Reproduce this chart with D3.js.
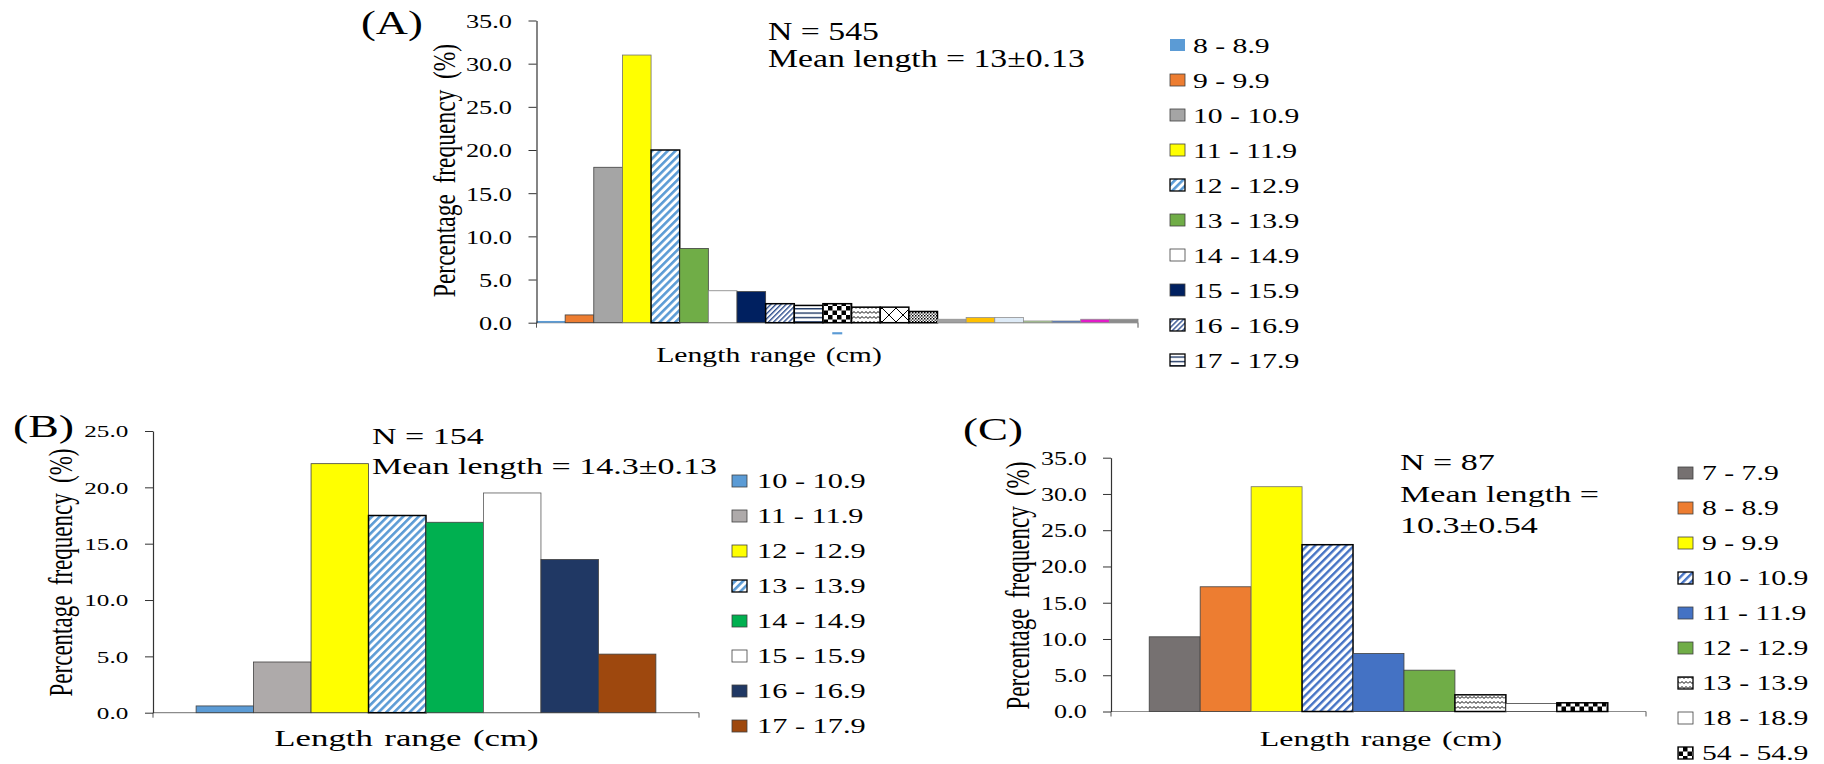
<!DOCTYPE html>
<html><head><meta charset="utf-8">
<script src="https://cdn.jsdelivr.net/npm/d3@7"></script>
<style>html,body{margin:0;padding:0;background:#fff;} svg{display:block;}</style>
</head><body>
<svg id="chart" width="1824" height="764"></svg>
<script>
// ---------------- DATA ----------------
const catsA = ["8 - 8.9","9 - 9.9","10 - 10.9","11 - 11.9","12 - 12.9","13 - 13.9","14 - 14.9","15 - 15.9","16 - 16.9","17 - 17.9",
  "18 - 18.9","19 - 19.9","20 - 20.9","21 - 21.9","22 - 22.9","23 - 23.9","24 - 24.9","25 - 25.9","26 - 26.9","27 - 27.9","28 - 28.9"];
const valsA = [0.2, 0.9, 18.0, 31.0, 20.0, 8.6, 3.7, 3.6, 2.2, 2.0, 2.2, 1.8, 1.8, 1.3, 0.4, 0.6, 0.6, 0.2, 0.2, 0.4, 0.4];
const legendCountA = 10;
const ticksA = [0, 5, 10, 15, 20, 25, 30, 35];
const notesA = ["N = 545", "Mean length = 13±0.13"];

const catsB = ["10 - 10.9","11 - 11.9","12 - 12.9","13 - 13.9","14 - 14.9","15 - 15.9","16 - 16.9","17 - 17.9"];
const valsB = [0.6, 4.5, 22.1, 17.5, 16.9, 19.5, 13.6, 5.2];
const ticksB = [0, 5, 10, 15, 20, 25];
const notesB = ["N = 154", "Mean length = 14.3±0.13"];

const catsC = ["7 - 7.9","8 - 8.9","9 - 9.9","10 - 10.9","11 - 11.9","12 - 12.9","13 - 13.9","18 - 18.9","54 - 54.9"];
const valsC = [10.3, 17.2, 31.0, 23.0, 8.0, 5.7, 2.3, 1.1, 1.2];
const ticksC = [0, 5, 10, 15, 20, 25, 30, 35];
const notesC = ["N = 87", "Mean length =", "10.3±0.54"];

const titles = ["(A)", "(B)", "(C)"];
const yTitle = "Percentage frequency (%)";
const xTitle = "Length range (cm)";
const strayMarkA = {category: "18 - 18.9", from: -1.35, to: -1.1};

// ---------------- STYLE ----------------
const FONT = "'Liberation Serif','Times New Roman',Times,serif";
const svg = d3.select("#chart");
const defs = svg.append("defs");
function pat(id, w, h, rot, draw) {
  const p = defs.append("pattern").attr("id", id).attr("patternUnits", "userSpaceOnUse")
    .attr("width", w).attr("height", h);
  if (rot) p.attr("patternTransform", `rotate(${rot})`);
  p.append("rect").attr("width", w).attr("height", h).attr("fill", "#fff");
  draw(p);
}
pat("diagL", 5.5, 5.5, 45, p => p.append("rect").attr("width", 2.6).attr("height", 5.5).attr("fill", "#5B9BD5"));
pat("diagC", 5.5, 5.5, 45, p => p.append("rect").attr("width", 2.4).attr("height", 5.5).attr("fill", "#4472C4"));
pat("diagN", 3.6, 3.6, 45, p => p.append("rect").attr("width", 1.4).attr("height", 3.6).attr("fill", "#2F4F8F"));
pat("hstr", 4, 4.4, 0, p => p.append("rect").attr("width", 4).attr("height", 1.4).attr("fill", "#1F3864"));
pat("check", 9, 9, 0, p => { p.append("rect").attr("width", 4.5).attr("height", 4.5).attr("fill", "#000");
  p.append("rect").attr("x", 4.5).attr("y", 4.5).attr("width", 4.5).attr("height", 4.5).attr("fill", "#000"); });
pat("wave", 8, 5, 0, p => p.append("path").attr("d", "M0,3.5 L2,1.5 L4,3.5 L6,1.5 L8,3.5").attr("fill", "none").attr("stroke", "#000").attr("stroke-width", 1));
pat("cross", 14, 14, 0, p => { p.append("path").attr("d", "M0,0 L14,14 M14,0 L0,14").attr("stroke", "#000").attr("stroke-width", 1); });
pat("dots", 3, 3, 0, p => { p.append("rect").attr("width", 1.5).attr("height", 1.5).attr("fill", "#000");
  p.append("rect").attr("x", 1.5).attr("y", 1.5).attr("width", 1.5).attr("height", 1.5).attr("fill", "#555"); });

const S = (f, st = "#404040", sw = 0.8) => ({f, st, sw});
const P = id => ({f: `url(#${id})`, st: "#000", sw: 1.5});
const stylesA = [S("#5B9BD5", "none", 0), S("#ED7D31"), S("#A5A5A5"), S("#FFFF00", "#707070"), P("diagL"), S("#70AD47"),
  S("#FFFFFF", "#808080"), S("#002060"), P("diagN"), P("hstr"), P("check"), P("wave"), P("cross"), P("dots"),
  S("#A0A0A0", "#909090"), S("#FFC000", "#909090"), S("#DEEBF7", "#909090"), S("#A9D18E", "#909090"),
  S("#4472C4", "#909090"), S("#E21BC8", "#909090"), S("#8C8C8C", "#909090")];
const stylesB = [S("#5B9BD5"), S("#AEAAAA"), S("#FFFF00"), P("diagL"), S("#00B050"), S("#FFFFFF", "#595959"), S("#203864"), S("#9E480E")];
const stylesC = [S("#767171"), S("#ED7D31"), S("#FFFF00", "#707070"), P("diagC"), S("#4472C4"), S("#70AD47"), P("wave"),
  S("#FFFFFF", "#404040"), P("check")];

function txt(g, x, y, s, size, sx, anchor = "start", rot = false, extra = {}) {
  const t = g.append("text").attr("transform", `translate(${x},${y}) scale(${sx},1)` + (rot ? " rotate(-90)" : ""))
    .attr("text-anchor", anchor).style("font-family", FONT).style("font-size", size + "px").attr("fill", "#000").text(s);
  Object.entries(extra).forEach(([k, v]) => t.style(k, v));
  return t;
}

function drawPanel(c) {
  const g = svg.append("g");
  const x = d3.scaleBand().domain(c.cats).range(c.xRange).paddingInner(0).paddingOuter(c.padOuter);
  const y = d3.scaleLinear().domain([0, d3.max(c.ticks)]).range(c.yRange);
  const rows = c.cats.map((k, i) => ({k, v: c.vals[i], s: c.styles[i]}));

  const [x0, x1] = x.range();
  g.append("line").attr("x1", x0).attr("x2", x1).attr("y1", y(0)).attr("y2", y(0)).attr("stroke", "#8c8c8c").attr("stroke-width", 1.2);
  [x0, x1].forEach(xx => g.append("line").attr("x1", xx).attr("x2", xx).attr("y1", y(0)).attr("y2", y(0) + 5).attr("stroke", "#555").attr("stroke-width", 1));

  g.selectAll("rect.bar").data(rows).join("rect").attr("class", "bar")
    .attr("x", d => x(d.k)).attr("width", x.bandwidth())
    .attr("y", d => y(d.v)).attr("height", d => y(0) - y(d.v))
    .attr("fill", d => d.s.f).attr("stroke", d => d.s.st).attr("stroke-width", d => d.s.sw);

  const ay = g.append("g").attr("transform", `translate(${x0},0)`)
    .call(d3.axisLeft(y).tickValues(c.ticks).tickFormat(d3.format(".1f")).tickSize(8).tickSizeOuter(0));
  ay.select(".domain").attr("stroke", "#333").attr("stroke-width", 1.2);
  ay.selectAll(".tick line").attr("stroke", "#333").attr("stroke-width", 1);
  ay.selectAll(".tick text").attr("x", null).attr("dy", "0.35em")
    .attr("transform", `translate(${c.tickRight - x0},0) scale(${c.sx},1)`)
    .style("font-family", FONT).style("font-size", c.tickFont + "px").attr("fill", "#000");

  txt(g, c.titleX, c.titleY, c.title, c.titleFont, c.sx);
  c.notes.forEach((n, i) => txt(g, c.noteX, c.noteY[i], n, c.noteFont, c.sx));
  txt(g, c.yLabX, c.yLabY, yTitle, c.yLabFont, c.sx, "middle", true, {"word-spacing": "0.2em"});
  txt(g, c.xLabX, c.xLabY, xTitle, c.xLabFont, c.sx, "middle", false, {"word-spacing": "0.08em"});

  rows.slice(0, c.legendN).forEach((d, i) => {
    const yy = c.legY0 + i * c.legDy;
    g.append("rect").attr("x", c.legX).attr("y", yy - 6).attr("width", 15).attr("height", 12)
      .attr("fill", d.s.f).attr("stroke", d.s.st === "none" ? "none" : (d.s.sw > 1 ? "#000" : "#404040"))
      .attr("stroke-width", d.s.sw > 1 ? 1.3 : 0.8);
    txt(g, c.legTextX, yy, d.k, c.legFont, c.sx, "start", false).attr("dy", "0.35em");
  });
  return {x, y, g};
}

const pA = drawPanel({cats: catsA, vals: valsA, styles: stylesA, ticks: ticksA, title: titles[0], notes: notesA, legendN: legendCountA,
  sx: 1.35, xRange: [536.5, 1138], padOuter: 0, yRange: [322.7, 20.5], tickRight: 512, tickFont: 19.5,
  titleX: 361, titleY: 34, titleFont: 33, noteX: 768, noteY: [40, 67], noteFont: 25,
  yLabX: 455, yLabY: 170.5, yLabFont: 23.5, xLabX: 769, xLabY: 362, xLabFont: 22,
  legX: 1170, legTextX: 1193, legY0: 45, legDy: 35, legFont: 22});

pA.g.append("rect").attr("x", pA.x(strayMarkA.category) + pA.x.bandwidth() / 2 - 5).attr("width", 10)
  .attr("y", pA.y(strayMarkA.to)).attr("height", pA.y(strayMarkA.from) - pA.y(strayMarkA.to)).attr("fill", "#5B9BD5");

drawPanel({cats: catsB, vals: valsB, styles: stylesB, ticks: ticksB, title: titles[1], notes: notesB, legendN: catsB.length,
  sx: 1.48, xRange: [153, 699], padOuter: 0.75, yRange: [712.7, 431], tickRight: 128.3, tickFont: 17,
  titleX: 13, titleY: 436.5, titleFont: 31, noteX: 372, noteY: [444, 474], noteFont: 23,
  yLabX: 72, yLabY: 572.5, yLabFont: 23, xLabX: 406.5, xLabY: 746, xLabFont: 23.5,
  legX: 732, legTextX: 757, legY0: 481, legDy: 35, legFont: 20.5});

drawPanel({cats: catsC, vals: valsC, styles: stylesC, ticks: ticksC, title: titles[2], notes: notesC, legendN: catsC.length,
  sx: 1.45, xRange: [1111, 1646], padOuter: 0.75, yRange: [711.5, 457.7], tickRight: 1086.7, tickFont: 18,
  titleX: 963, titleY: 439.5, titleFont: 31, noteX: 1400, noteY: [470, 502, 533], noteFont: 23.5,
  yLabX: 1029, yLabY: 585.5, yLabFont: 23, xLabX: 1381, xLabY: 746, xLabFont: 22,
  legX: 1678, legTextX: 1702, legY0: 473, legDy: 35, legFont: 20.5});
</script>
</body></html>
